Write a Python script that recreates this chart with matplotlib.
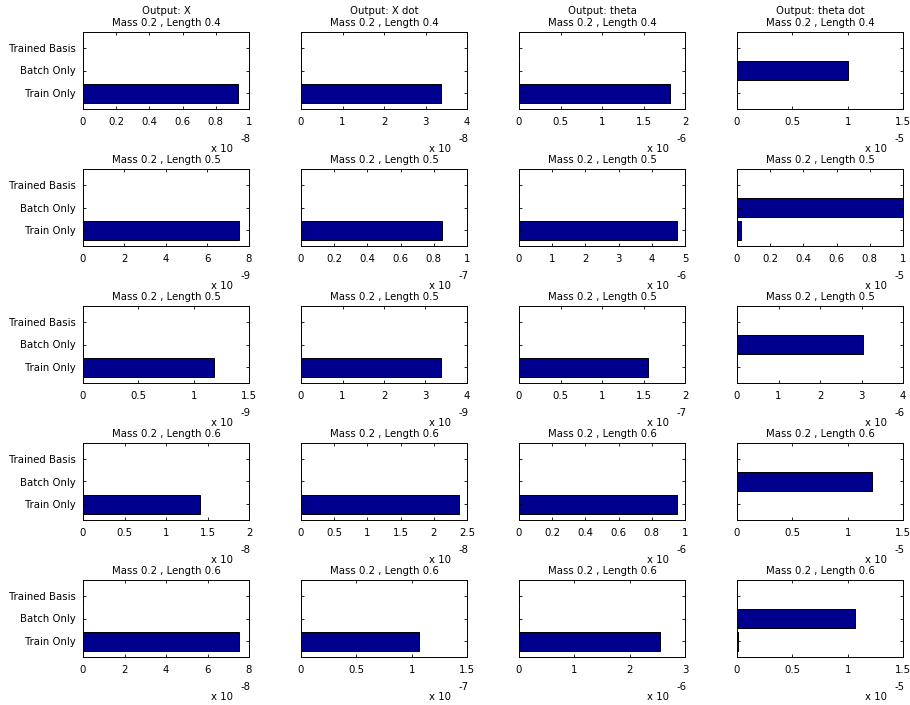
import matplotlib
matplotlib.use("Agg")
import matplotlib.pyplot as plt
import numpy as np

# labels
categories = ["Train Only", "Batch Only", "Trained Basis"]
outputs = ["X", "X dot", "theta", "theta dot"]
masses = [0.2, 0.2, 0.2, 0.2, 0.2]
lengths = [0.4, 0.5, 0.5, 0.6, 0.6]

# bar values, one row per mass/length case, one column per output
train_only = [[0.934e-8, 3.37e-8, 1.82e-6, 0.0],
              [7.52e-9, 0.85e-7, 4.76e-6, 0.025e-5],
              [1.18e-9, 3.37e-9, 1.56e-7, 0.0],
              [1.41e-8, 2.38e-8, 0.95e-6, 0.0],
              [7.5e-8, 1.07e-7, 2.545e-6, 0.005e-5]]
batch_only = [[0.0, 0.0, 0.0, 1.006e-5],
              [0.0, 0.0, 0.0, 0.998e-5],
              [0.0, 0.0, 0.0, 3.03e-6],
              [0.0, 0.0, 0.0, 1.22e-5],
              [0.0, 0.0, 0.0, 1.065e-5]]
trained_basis = [[0.0, 0.0, 0.0, 0.0] for _ in range(5)]

# axis exponent, upper limit and tick step (in scaled units)
exps = [[-8, -8, -6, -5],
        [-9, -7, -6, -5],
        [-9, -9, -7, -6],
        [-8, -8, -6, -5],
        [-8, -7, -6, -5]]
xmax = [[1, 4, 2, 1.5],
        [8, 1, 5, 1],
        [1.5, 4, 2, 4],
        [2, 2.5, 1, 1.5],
        [8, 1.5, 3, 1.5]]
xstep = [[0.2, 1, 0.5, 0.5],
         [2, 0.2, 1, 0.2],
         [0.5, 1, 0.5, 1],
         [0.5, 0.5, 0.2, 0.5],
         [2, 0.5, 1, 0.5]]

plt.rcParams["font.family"] = "DejaVu Sans"
fs = 7.3

W, H = 910, 705
fig = plt.figure(figsize=(W / 100, H / 100), dpi=100)

col_left = [83, 301, 519, 737]
row_top = [32, 169, 306, 443, 580]
ax_w, ax_h = 166, 77

ypos = np.arange(1, 4)
for r in range(5):
    for c in range(4):
        ax = fig.add_axes([col_left[c] / W, 1 - (row_top[r] + ax_h) / H, ax_w / W, ax_h / H])
        vals = [train_only[r][c], batch_only[r][c], trained_basis[r][c]]
        ax.barh(ypos, vals, height=0.8, color="#00008F", edgecolor="black", linewidth=0.7)
        scale = 10.0 ** exps[r][c]
        ax.set_xlim(0, xmax[r][c] * scale)
        ticks = np.arange(0, xmax[r][c] + xstep[r][c] / 2, xstep[r][c])
        ax.set_xticks(ticks * scale)
        ax.set_xticklabels(["%g" % round(t, 3) for t in ticks], fontsize=fs)
        ax.set_ylim(0.32, 3.68)
        ax.set_yticks(ypos)
        if c == 0:
            ax.set_yticklabels(categories, fontsize=fs)
        else:
            ax.set_yticklabels([])
        ax.tick_params(direction="in", length=2.5, width=0.6, top=True, right=True)
        ax.tick_params(axis="x", pad=6)
        ax.tick_params(axis="y", pad=5)
        for s in ax.spines.values():
            s.set_linewidth(0.7)
        # MATLAB style exponent below the axis
        ax.text(0.905, -0.52, "x 10", transform=ax.transAxes,
                ha="right", va="center", fontsize=fs)
        ax.text(1.01, -0.39, "%d" % exps[r][c], transform=ax.transAxes,
                ha="right", va="center", fontsize=fs)
        title = "Mass %g , Length %g" % (masses[r], lengths[r])
        if r == 0:
            title = "Output: %s\n" % outputs[c] + title
        ax.set_title(title, fontsize=fs, pad=4.5, linespacing=1.25)

fig.savefig("out.png", dpi=100)
